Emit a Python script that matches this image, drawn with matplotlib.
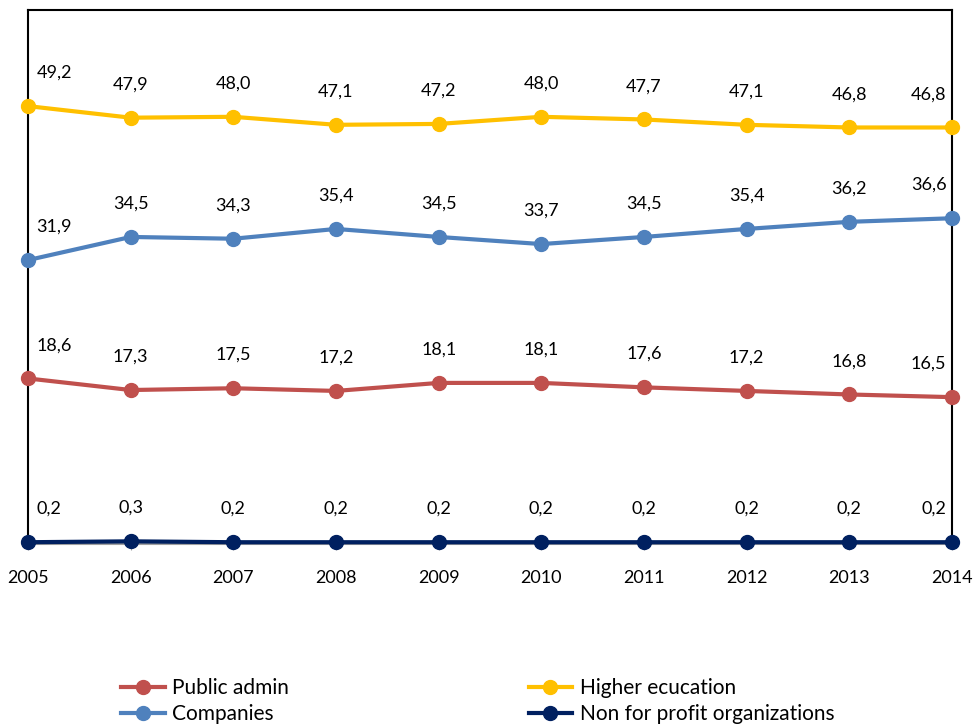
import matplotlib
matplotlib.use('Agg')
import matplotlib.pyplot as plt

# data
years = [2005, 2006, 2007, 2008, 2009, 2010, 2011, 2012, 2013, 2014]
public_admin = [18.6, 17.3, 17.5, 17.2, 18.1, 18.1, 17.6, 17.2, 16.8, 16.5]
companies = [31.9, 34.5, 34.3, 35.4, 34.5, 33.7, 34.5, 35.4, 36.2, 36.6]
higher_edu = [49.2, 47.9, 48.0, 47.1, 47.2, 48.0, 47.7, 47.1, 46.8, 46.8]
non_profit = [0.2, 0.3, 0.2, 0.2, 0.2, 0.2, 0.2, 0.2, 0.2, 0.2]

series = [
    ("Public admin", public_admin, "#C0504D"),
    ("Companies", companies, "#4F81BD"),
    ("Higher ecucation", higher_edu, "#FFC000"),
    ("Non for profit organizations", non_profit, "#002060"),
]

plt.rcParams['font.family'] = ['Lato', 'DejaVu Sans']

fig = plt.figure(figsize=(9.75, 7.27), dpi=100)
ax = fig.add_axes([28 / 975, 1 - 544 / 727, (952 - 28) / 975, (544 - 10) / 727])

for name, vals, color in series:
    ax.plot(years, vals, color=color, lw=3, marker='o', markersize=10,
            label=name, clip_on=False, zorder=3)
    for i, (x, v) in enumerate(zip(years, vals)):
        txt = f"{v:.1f}".replace('.', ',')
        if i == 0:
            ha, dx = 'left', 6
        elif i == len(years) - 1:
            ha, dx = 'right', -4
        else:
            ha, dx = 'center', 0
        ax.annotate(txt, (x, v), xytext=(dx, 24), textcoords='offset points',
                    ha=ha, va='center', fontsize=13, color='black')

ax.set_xlim(2005, 2014)
ax.set_ylim(0, 60)
ax.set_yticks([])
ax.set_xticks(years)
ax.set_xticklabels([str(y) for y in years], fontsize=13)
ax.tick_params(axis='x', length=4, color='#A0A0A0', pad=15)
for s in ['left', 'right', 'top']:
    ax.spines[s].set_color('black')
    ax.spines[s].set_linewidth(1.5)
ax.spines['bottom'].set_color('#A0A0A0')
ax.spines['bottom'].set_linewidth(1.5)

handles, labels = ax.get_legend_handles_labels()
fig.legend(handles, labels, ncol=2, loc='upper left',
           bbox_to_anchor=(121 / 975, 1 - 678 / 727), frameon=False,
           fontsize=15, handlelength=2.1, handletextpad=0.35,
           columnspacing=11.5, labelspacing=0.3, borderpad=0,
           borderaxespad=0)

fig.savefig('out.png', dpi=100)
